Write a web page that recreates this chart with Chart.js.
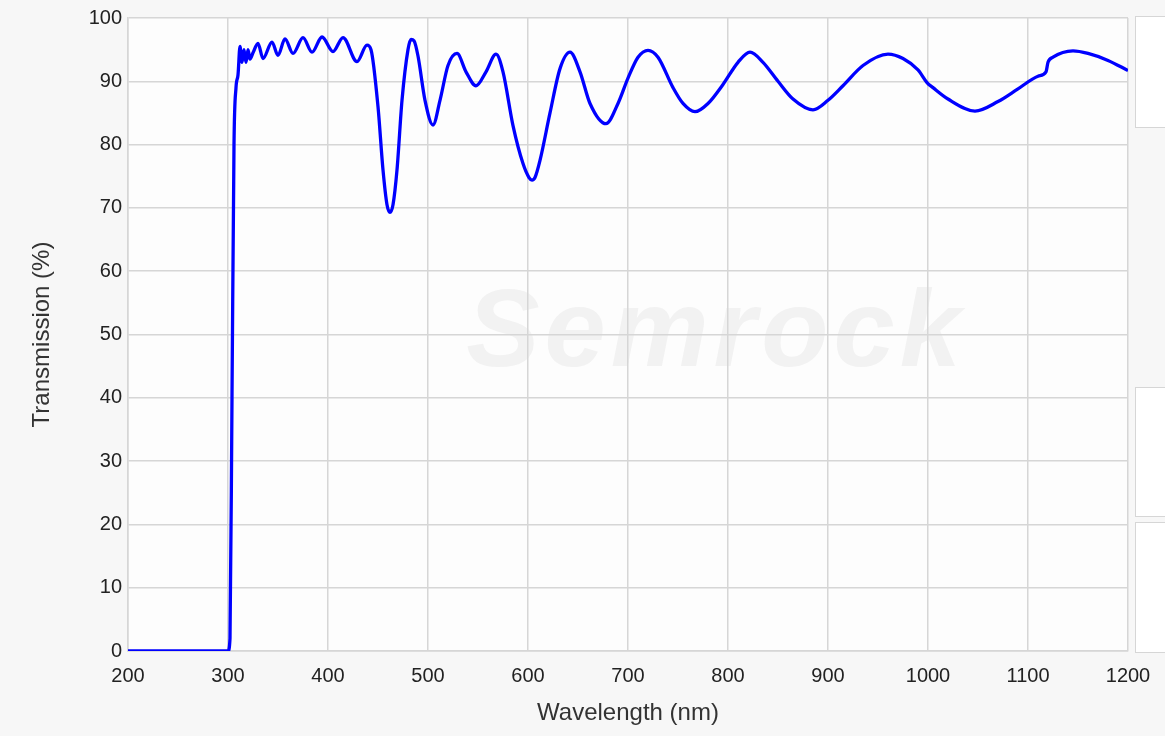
<!DOCTYPE html>
<html>
<head>
<meta charset="utf-8">
<script src="https://cdn.jsdelivr.net/npm/chart.js@4.4.0/dist/chart.umd.min.js"></script>
<style>
  html, body { margin: 0; padding: 0; background: #f7f7f7; }
  #wrap { position: relative; width: 1165px; height: 736px; }
  .side { position: absolute; left: 1135px; width: 40px; background: #fff; border: 1px solid #d6d6d6; }
</style>
</head>
<body>
<div id="wrap">
  <canvas id="transChart" width="1165" height="736"></canvas>
  <div class="side" style="top:16px;height:110px;"></div>
  <div class="side" style="top:387px;height:128px;"></div>
  <div class="side" style="top:522px;height:129px;"></div>
</div>
<script>
// wavelength (nm) and transmission (%)
const wavelength = [
  200, 300, 302, 304, 306, 308, 310, 312, 314, 316, 318, 320, 322, 325,
  330, 335, 344, 350, 357, 365, 375, 384, 394, 405, 415, 429, 439, 443,
  450, 455, 459, 462, 465, 469, 474, 480, 483, 486, 490, 497, 505, 512, 520, 529, 538,
  548, 558, 568, 575, 585, 595, 601, 604, 607, 612, 622, 632, 642, 652, 662, 678,
  690, 700, 710, 720, 730, 745, 755, 767, 780, 795, 810, 822, 835, 850,
  865, 885, 900, 915, 935, 960, 975, 990, 999, 1005, 1020, 1047, 1070,
  1090, 1110, 1118, 1120, 1125, 1145, 1160, 1180, 1200
];
const transmission = [
  0, 0, 2, 40, 80, 89, 91, 95.5, 93, 95, 93, 95, 93.5, 94.5,
  96, 93.6, 96.2, 94.1, 96.7, 94.4, 96.9, 94.6, 97, 94.7, 96.9, 93.1, 95.7, 95,
  86, 76, 70.5, 69.3, 70.5, 76, 87, 95, 96.6, 96.4, 94, 87, 83.1, 87, 92.5, 94.4, 91.5,
  89.3, 91.5, 94.3, 91.5, 83, 77, 74.8, 74.4, 74.8, 77.5, 85, 92, 94.6, 91.5, 86.5, 83.3,
  86.5, 90.5, 93.8, 94.9, 93.8, 89, 86.5, 85.2, 86.5, 89.5, 93, 94.6, 93, 90,
  87.2, 85.5, 87, 89.3, 92.5, 94.3, 93.6, 91.8, 89.8, 89, 87.2, 85.3, 86.8,
  88.8, 90.8, 91.5, 93, 93.8, 94.8, 94.4, 93.3, 91.7
];
const xTicks = [200, 300, 400, 500, 600, 700, 800, 900, 1000, 1100, 1200];
const yTicks = [0, 10, 20, 30, 40, 50, 60, 70, 80, 90, 100];

const points = wavelength.map((w, i) => ({ x: w, y: transmission[i] }));
const FONT = '"Liberation Sans", Arial, sans-serif';

const plotBack = {
  id: 'plotBack',
  beforeDraw(chart) {
    const { ctx, chartArea: a } = chart;
    ctx.save();
    ctx.fillStyle = '#fdfdfd';
    ctx.fillRect(a.left, a.top, a.right - a.left, a.bottom - a.top);
    // faint watermark
    ctx.font = 'italic bold 110px ' + FONT;
    ctx.letterSpacing = '5px';
    ctx.fillStyle = 'rgba(200,200,200,0.2)';
    ctx.textAlign = 'center';
    ctx.textBaseline = 'middle';
    ctx.fillText('Semrock', 716, 336);
    ctx.restore();
  }
};

const ctx = document.getElementById('transChart').getContext('2d');
const transChart = new Chart(ctx, {
  type: 'line',
  data: {
    datasets: [{
      label: 'Transmission',
      data: points,
      borderColor: '#0000ff',
      borderWidth: 3.3,
      pointRadius: 0,
      cubicInterpolationMode: 'monotone',
      fill: false
    }]
  },
  options: {
    responsive: false,
    animation: false,
    layout: { padding: { top: 16, right: 37, left: 0, bottom: 0 } },
    plugins: {
      legend: { display: false },
      tooltip: { enabled: false }
    },
    scales: {
      x: {
        type: 'linear',
        min: 200,
        max: 1200,
        afterBuildTicks: (s) => { s.ticks = xTicks.map(v => ({ value: v })); },
        afterFit: (s) => { s.height = 85; },
        grid: { color: '#d6d6d6', lineWidth: 1.5, drawTicks: false },
        border: { color: '#d6d6d6', width: 1.5 },
        ticks: {
          padding: 13,
          color: '#222',
          font: { family: FONT, size: 20 },
          maxRotation: 0,
          callback: (v) => String(v)
        },
        title: {
          display: true,
          text: 'Wavelength (nm)',
          color: '#333',
          padding: { top: 0, bottom: 8 },
          font: { family: FONT, size: 24 }
        }
      },
      y: {
        min: 0,
        max: 100,
        afterBuildTicks: (s) => { s.ticks = yTicks.map(v => ({ value: v })); },
        afterFit: (s) => { s.width = 128; },
        grid: { color: '#d6d6d6', lineWidth: 1.5, drawTicks: false },
        border: { color: '#d6d6d6', width: 1.5 },
        ticks: {
          padding: 6,
          color: '#222',
          font: { family: FONT, size: 20 },
          callback: (v) => String(v)
        },
        title: {
          display: true,
          text: 'Transmission (%)',
          color: '#333',
          padding: { top: 28, bottom: 0 },
          font: { family: FONT, size: 24 }
        }
      }
    }
  },
  plugins: [plotBack]
});
</script>
</body>
</html>
